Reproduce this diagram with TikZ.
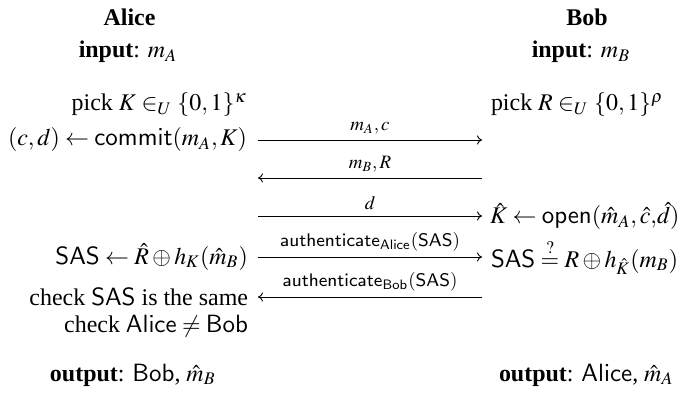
\documentclass[tikz,border=0pt]{standalone}
\usepackage{mathptmx}
\usepackage{fontspec}
\setmainfont{Liberation Serif}
\usetikzlibrary{arrows.meta}
\tikzset{
  txt/.style={inner sep=0pt, outer sep=0pt, font=\fontsize{10.5}{12.5}\selectfont},
  msg/.style={-{To[length=2.2pt,width=4pt]}, line width=0.4pt},
  lbl/.style={above=2.4pt, inner sep=0pt, font=\fontsize{8.3}{10}\selectfont},
}
\begin{document}
\begin{tikzpicture}[x=0.4386pt, y=-0.4386pt]
\useasboundingbox (0,0) rectangle (681,400);
% headers
\node[txt] (alice) at (129.5,17) {\textbf{Alice}};
\node[txt] (ainput) at (128,52) {\textbf{input}: $m_A$};
\node[txt] (bob) at (587,17) {\textbf{Bob}};
\node[txt] (binput) at (581,52) {\textbf{input}: $m_B$};
% left column
\node[txt, anchor=east] (pickK) at (247,105) {pick $K \in_U \{0,1\}^{\kappa}$};
\node[txt, anchor=east] (commit) at (247,140) {$(c,d) \leftarrow \mathsf{commit}(m_A,K)$};
\node[txt, anchor=east] (sasA) at (248,257) {$\mathsf{SAS} \leftarrow \hat{R} \oplus h_K(\hat{m}_B)$};
\node[txt, anchor=east] (check1) at (248,297) {check $\mathsf{SAS}$ is the same};
\node[txt, anchor=east] (check2) at (248,326) {check $\mathsf{Alice} \neq \mathsf{Bob}$};
\node[txt, anchor=west] (outA) at (50,375) {\textbf{output}: $\mathsf{Bob}$, $\hat{m}_B$};
% right column
\node[txt, anchor=west] (pickR) at (491,105) {pick $R \in_U \{0,1\}^{\rho}$};
\node[txt, anchor=west] (open) at (490,216) {$\hat{K} \leftarrow \mathsf{open}(\hat{m}_A,\hat{c},\!\hat{d})$};
\node[txt, anchor=west] (sasB) at (491,257) {$\mathsf{SAS} \stackrel{?}{=} R \oplus h_{\hat{K}}(m_B)$};
\node[txt, anchor=west] (outB) at (499,375) {\textbf{output}: $\mathsf{Alice}$, $\hat{m}_A$};
% arrow endpoints
\coordinate (l1) at (258,140); \coordinate (r1) at (482,140);
\coordinate (l2) at (258,178); \coordinate (r2) at (482,178);
\coordinate (l3) at (258,216); \coordinate (r3) at (482,216);
\coordinate (l4) at (258,257); \coordinate (r4) at (482,257);
\coordinate (l5) at (258,297); \coordinate (r5) at (482,297);
% messages
\draw[msg] (l1) -- node[lbl] {$m_A,c$} (r1);
\draw[msg] (r2) -- node[lbl] {$m_B,R$} (l2);
\draw[msg] (l3) -- node[lbl] {$d$} (r3);
\draw[msg] (l4) -- node[lbl] {$\mathsf{authenticate}_{\mathsf{Alice}}(\mathsf{SAS})$} (r4);
\draw[msg] (r5) -- node[lbl] {$\mathsf{authenticate}_{\mathsf{Bob}}(\mathsf{SAS})$} (l5);
\end{tikzpicture}
\end{document}
